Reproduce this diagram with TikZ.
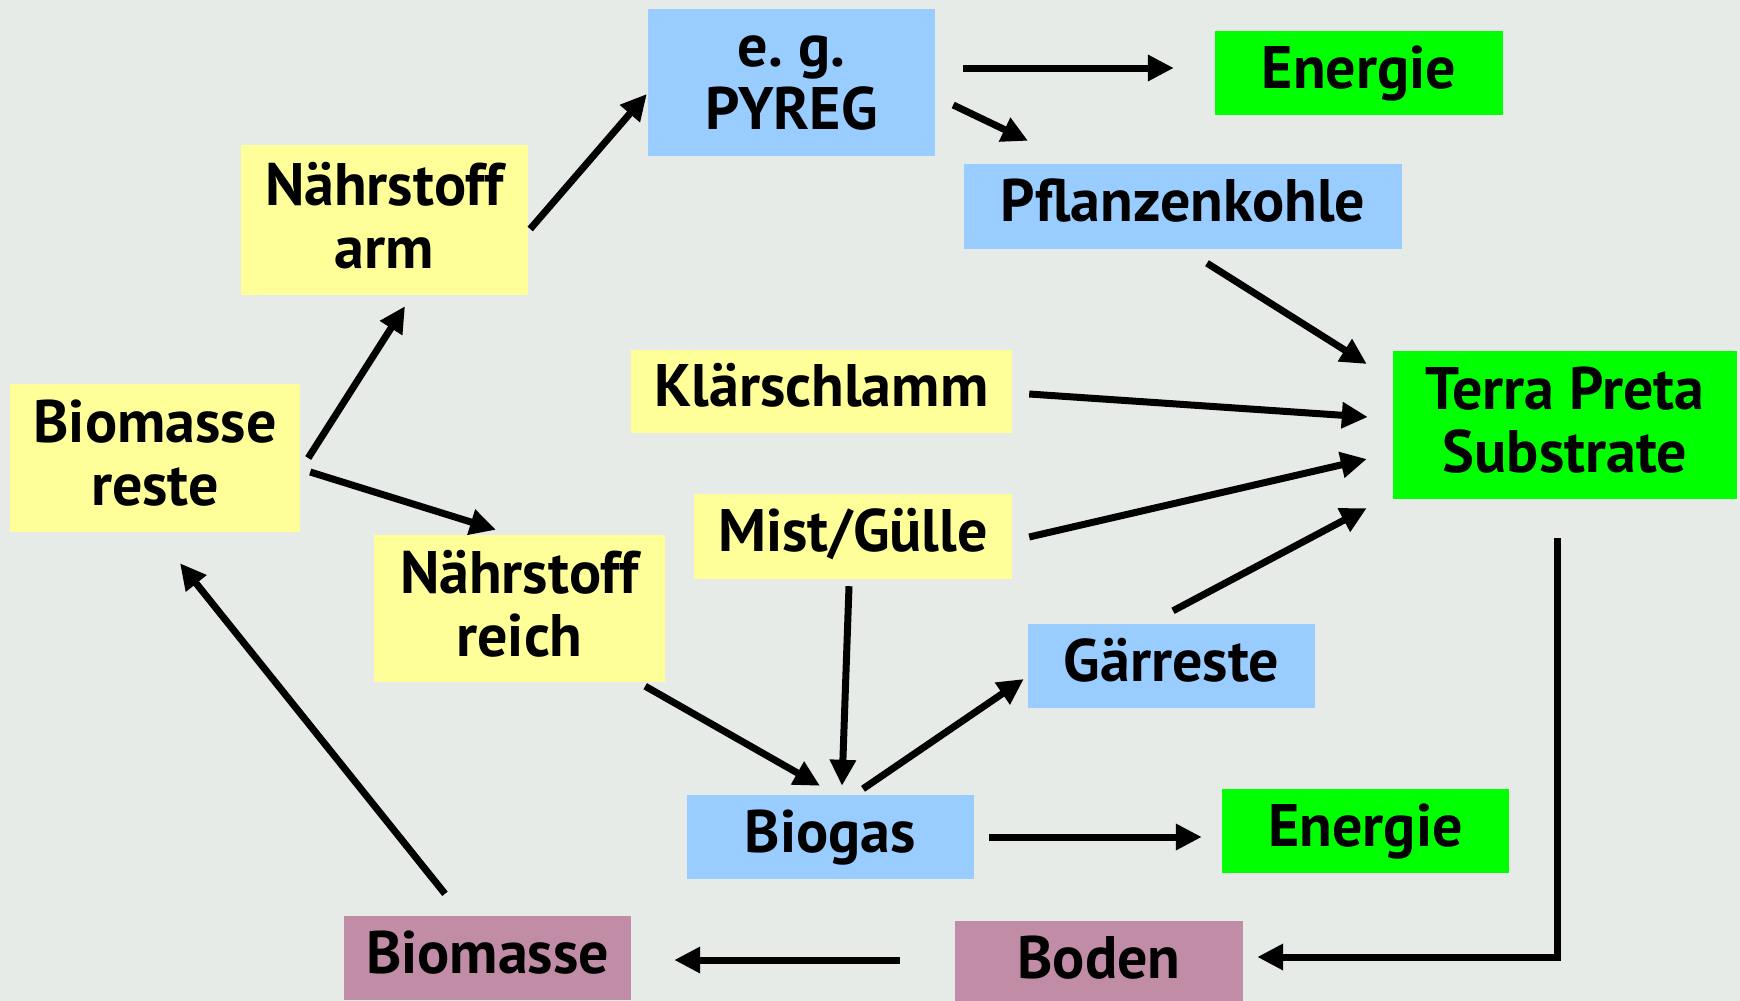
\documentclass[tikz,border=0pt]{standalone}
\usepackage{fontspec}
\setmainfont{PT Sans}
\usetikzlibrary{arrows.meta,calc}
\definecolor{bg}{HTML}{E6EBE8}
\definecolor{cblue}{HTML}{99CCFF}
\definecolor{cyel}{HTML}{FFFF99}
\definecolor{cgreen}{HTML}{00FF00}
\definecolor{cmauve}{HTML}{C18CA6}
\tikzset{
  box/.style={inner sep=0pt, align=center, font=\fontsize{60}{63}\selectfont\bfseries, text=black},
  one/.style={text height=43pt, text depth=13pt},
  two/.style={text depth=10pt},
  bluebox/.style={box, fill=cblue},
  yelbox/.style={box, fill=cyel},
  greenbox/.style={box, fill=cgreen},
  mauvebox/.style={box, fill=cmauve},
  arr/.style={line width=7pt, -{Triangle[length=26pt,width=25pt]}},
}
\begin{document}
\begin{tikzpicture}[x=1pt,y=-1pt]
\useasboundingbox (0,0) rectangle (1740,1001);
\clip (0,0) rectangle (1740,1001);
\fill[bg] (0,0) rectangle (1740,1001);
% nodes
\node[bluebox, minimum width=287pt, minimum height=147pt] (pyreg) at (791.5,82.5) {e.\ g.\\PYREG};
\node[greenbox, one, minimum width=288pt, minimum height=84pt] (en1) at (1359,73) {Energie};
\node[yelbox, two, minimum width=287pt, minimum height=150pt] (narm) at (384.5,220) {Nährstoff\\arm};
\node[bluebox, one, minimum width=438pt, minimum height=85pt] (pk) at (1183,206.5) {Pflanzenkohle};
\node[yelbox, two, minimum width=290pt, minimum height=148pt] (bres) at (155,458) {Biomasse\\reste};
\node[yelbox, one, minimum width=381pt, minimum height=83pt] (klae) at (821.5,391.5) {Klärschlamm};
\node[greenbox, two, minimum width=344pt, minimum height=148pt] (terra) at (1565,425) {Terra Preta\\Substrate};
\node[yelbox, one, minimum width=318pt, minimum height=85pt] (mist) at (853,536.5) {Mist/Gülle};
\node[yelbox, two, minimum width=291pt, minimum height=147pt] (nreich) at (519.5,608.5) {Nährstoff\\reich};
\node[bluebox, one, minimum width=287pt, minimum height=84pt] (gaer) at (1171.5,666) {Gärreste};
\node[bluebox, one, minimum width=287pt, minimum height=84pt] (biogas) at (830.5,837) {Biogas};
\node[greenbox, one, minimum width=287pt, minimum height=84pt] (en2) at (1365.5,831) {Energie};
\node[mauvebox, one, minimum width=287pt, minimum height=84pt] (bm) at (487.5,958) {Biomasse};
\node[mauvebox, one, minimum width=288pt, minimum height=84pt] (boden) at (1099,963) {Boden};
% connectors
\draw[arr] ($(bres.east)+(8,0)$) -- ($(narm.south)+(20.5,11)$);
\draw[arr] ($(narm.east)+(2,9)$) -- ($(pyreg.west)+(-1,11.5)$);
\draw[arr] ($(pyreg.east)+(28,-14.5)$) -- ($(en1.west)+(-41,-5)$);
\draw[arr] ($(pyreg.east)+(18,22.5)$) -- ($(pk.north)+(-155,-23)$);
\draw[arr] ($(pk.south)+(24,14)$) -- ($(terra.west)+(-26,-61)$);
\draw[arr] ($(klae.east)+(17,2.5)$) -- ($(terra.west)+(-25,-8)$);
\draw[arr] ($(mist.east)+(17,0.5)$) -- ($(terra.west)+(-26,34)$);
\draw[arr] ($(gaer.north)+(1.5,-13)$) -- ($(terra.west)+(-26,83)$);
\draw[arr] ($(bres.east)+(10,14)$) -- ($(nreich.north)+(-23.5,-5)$);
\draw[arr] ($(nreich.south east)+(-20,4)$) -- ($(biogas.north)+(-10.5,-9)$);
\draw[arr] ($(mist.south)+(-4,7)$) -- ($(biogas.north)+(11.5,-9)$);
\draw[arr] ($(biogas.north)+(32.5,-6)$) -- ($(gaer.west)+(-4,13)$);
\draw[arr] ($(biogas.east)+(15,0)$) -- ($(en2.west)+(-20,6)$);
\draw[arr] ($(terra.south)+(-8,39)$) |- ($(boden.east)+(14,-6)$);
\draw[arr] ($(boden.west)+(-55,-3)$) -- ($(bm.east)+(43,2)$);
\draw[arr] ($(bm.north)+(-42.5,-22)$) -- ($(bres.south)+(25,31)$);
\end{tikzpicture}
\end{document}
